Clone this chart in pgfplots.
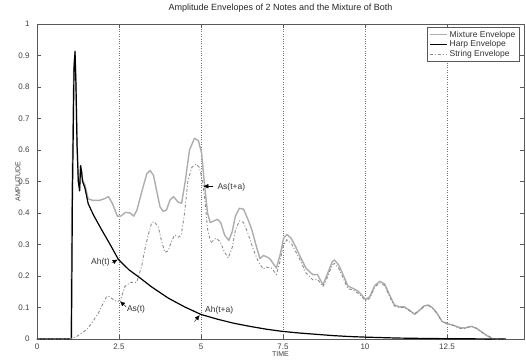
\documentclass[border=0pt]{standalone}
\usepackage{fontspec}
\setmainfont{Liberation Sans}
\usepackage{pgfplots}
\pgfplotsset{compat=1.18}
\usetikzlibrary{arrows.meta}
\definecolor{mixc}{gray}{0.68}
\definecolor{strc}{gray}{0.55}
\definecolor{gridc}{gray}{0.45}
\begin{document}
\begin{tikzpicture}
\path[use as bounding box] (-37pt,-21pt) rectangle (489pt,339pt);
\begin{axis}[
  scale only axis, width=487pt, height=315pt,
  at={(0pt,0pt)}, anchor=south west,
  xmin=0, xmax=14.85, ymin=0, ymax=1,
  xtick={0,2.5,5,7.5,10,12.5},
  xticklabels={0,2.5,5,7.5,10,12.5},
  ytick={0,0.1,0.2,0.3,0.4,0.5,0.6,0.7,0.8,0.9,1},
  yticklabels={0,0.1,0.2,0.3,0.4,0.5,0.6,0.7,0.8,0.9,1},
  tick align=inside, tick pos=both,
  major tick length=4pt,
  axis line style={gray!70!black, line width=0.8pt},
  tick style={gray!70!black, line width=0.6pt},
  xmajorgrids, grid style={gridc, dotted, line width=0.6pt},
  /pgf/number format/assume math mode=true,
  ticklabel style={font=\fontsize{8}{9}\selectfont, text=black!75},
  xticklabel style={yshift=-1pt},
  yticklabel style={xshift=-4pt},
  title={Amplitude Envelopes of 2 Notes and the Mixture of Both},
  title style={font=\fontsize{9}{10}\selectfont, at={(0.5,1)}, anchor=south, yshift=2pt, text=black!85},
  xlabel={TIME}, ylabel={AMPLITUDE},
  label style={font=\fontsize{7}{8}\selectfont, text=black!75},
  xlabel style={at={(0.5,0)}, anchor=north, yshift=-9pt},
  ylabel style={at={(0,0.5)}, anchor=south, yshift=13pt},
  legend style={at={(0.99,0.99)}, anchor=north east, font=\fontsize{8.5}{9}\selectfont,
    draw=gray!70!black, line width=0.6pt, inner sep=1.5pt, row sep=-2pt, text=black!80,
    cells={anchor=west}},
]
\addplot[mixc, line width=1.4pt, line join=round] coordinates {
(0,0) (1.0,0) (1.04,0) (1.06,0.4) (1.12,0.86) (1.16,0.915) (1.19,0.8) (1.22,0.62) (1.26,0.50)
(1.30,0.48) (1.33,0.55) (1.36,0.53) (1.39,0.505) (1.46,0.49) (1.56,0.445) (1.7,0.44) (1.9,0.44)
(2.05,0.445) (2.18,0.452) (2.3,0.43) (2.45,0.39) (2.55,0.39) (2.7,0.402) (2.84,0.40) (2.95,0.39)
(3.05,0.41) (3.2,0.47) (3.35,0.525) (3.45,0.535) (3.55,0.52) (3.65,0.47) (3.75,0.42) (3.85,0.405)
(3.95,0.41) (4.05,0.44) (4.16,0.452) (4.3,0.435) (4.41,0.431) (4.52,0.5) (4.65,0.6) (4.8,0.637)
(4.92,0.63) (5.02,0.59) (5.1,0.5) (5.2,0.4) (5.28,0.37) (5.4,0.375) (5.5,0.38) (5.6,0.37)
(5.72,0.33) (5.85,0.313) (5.95,0.34) (6.05,0.39) (6.17,0.415) (6.3,0.412) (6.45,0.375) (6.55,0.347)
(6.7,0.29) (6.8,0.255) (6.9,0.265) (6.98,0.262) (7.1,0.255) (7.3,0.225) (7.42,0.27) (7.52,0.32)
(7.62,0.332) (7.75,0.32) (7.9,0.29) (8.0,0.267) (8.2,0.225) (8.41,0.204) (8.55,0.205) (8.72,0.172)
(8.85,0.205) (9.0,0.245) (9.07,0.251) (9.2,0.235) (9.35,0.2) (9.48,0.168) (9.65,0.16) (9.79,0.152)
(9.9,0.14) (10.02,0.125) (10.15,0.135) (10.3,0.17) (10.45,0.183) (10.6,0.175) (10.75,0.14)
(10.9,0.108) (11.05,0.102) (11.2,0.102) (11.35,0.092) (11.52,0.078) (11.65,0.09) (11.8,0.105)
(11.93,0.108) (12.05,0.1) (12.2,0.082) (12.35,0.056) (12.49,0.049) (12.74,0.042) (12.9,0.036)
(13.05,0.035) (13.25,0.04) (13.4,0.034) (13.5,0.027) (13.7,0.012) (13.9,0) (14.3,0)
};
\addlegendentry{Mixture Envelope}
\addplot[black, line width=1.2pt, line join=round] coordinates {
(0,0) (1.0,0) (1.05,0) (1.08,0.45) (1.13,0.86) (1.16,0.912) (1.19,0.80) (1.22,0.62) (1.26,0.50)
(1.30,0.47) (1.33,0.55) (1.36,0.53) (1.39,0.50) (1.46,0.48) (1.56,0.43) (1.72,0.394) (1.97,0.347)
(2.23,0.30) (2.48,0.253) (2.8,0.22) (3.14,0.194) (3.5,0.165) (4.0,0.13) (4.5,0.102) (5.0,0.078)
(5.5,0.063) (6.0,0.05) (6.5,0.04) (7.0,0.031) (7.5,0.024) (8.0,0.019) (8.5,0.015) (9,0.011)
(9.5,0.008) (10,0.006) (11,0.003) (12,0.0015) (13,0.0007) (14.3,0)
};
\addlegendentry{Harp Envelope}
\addplot[strc, line width=0.9pt, dash pattern=on 3pt off 2pt on 1pt off 2pt] coordinates {
(0,0) (1.0,0) (1.21,0.008) (1.52,0.03) (1.7,0.055) (1.87,0.082) (2.0,0.11) (2.12,0.135) (2.2,0.135)
(2.33,0.125) (2.45,0.118) (2.55,0.125) (2.68,0.167) (2.85,0.18) (3.04,0.18) (3.19,0.23) (3.3,0.29)
(3.39,0.33) (3.5,0.37) (3.58,0.372) (3.7,0.355) (3.8,0.31) (3.9,0.275) (4.0,0.28) (4.1,0.31)
(4.2,0.33) (4.31,0.323) (4.4,0.33) (4.5,0.40) (4.6,0.50) (4.72,0.545) (4.85,0.555) (4.95,0.545)
(5.05,0.50) (5.12,0.44) (5.2,0.35) (5.3,0.305) (5.45,0.32) (5.58,0.31) (5.7,0.28) (5.83,0.257)
(5.95,0.29) (6.05,0.345) (6.17,0.375) (6.3,0.37) (6.45,0.33) (6.6,0.283) (6.75,0.245) (6.9,0.222)
(7.0,0.228) (7.15,0.225) (7.3,0.205) (7.42,0.25) (7.52,0.3) (7.62,0.315) (7.75,0.305) (7.9,0.275)
(8.05,0.245) (8.2,0.21) (8.41,0.188) (8.55,0.19) (8.72,0.167) (8.85,0.195) (9.0,0.235) (9.07,0.24)
(9.2,0.225) (9.35,0.19) (9.48,0.16) (9.65,0.155) (9.79,0.145) (9.9,0.135) (10.02,0.12) (10.15,0.13)
(10.3,0.165) (10.45,0.178) (10.6,0.17) (10.75,0.135) (10.9,0.105) (11.05,0.1) (11.2,0.1)
(11.35,0.09) (11.5,0.08) (11.65,0.09) (11.8,0.103) (11.92,0.107) (12.05,0.1) (12.2,0.08)
(12.35,0.055) (12.5,0.05) (12.68,0.044) (12.85,0.035) (13.0,0.032) (13.15,0.038) (13.25,0.04)
(13.4,0.034) (13.55,0.022) (13.75,0.01) (13.95,0.0) (14.3,0)
};
\addlegendentry{String Envelope}
% annotations
\begin{scope}[font=\fontsize{8.5}{9}\selectfont, text=black!80]
\node[anchor=east, inner sep=0pt] at (axis cs:2.22,0.245) {Ah(t)};
\draw[black, -{Latex[length=5pt,width=4.5pt]}] (axis cs:2.28,0.242) -- (axis cs:2.46,0.252);
\node[anchor=west, inner sep=0pt] at (axis cs:2.74,0.094) {As(t)};
\draw[black, -{Latex[length=5pt,width=4.5pt]}] (axis cs:2.72,0.102) -- (axis cs:2.53,0.12);
\node[anchor=west, inner sep=0pt] at (axis cs:5.12,0.092) {Ah(t+a)};
\draw[black, -{Latex[length=5pt,width=4.5pt]}] (axis cs:4.8,0.055) -- (axis cs:4.96,0.076);
\node[anchor=west, inner sep=0pt] at (axis cs:5.5,0.483) {As(t+a)};
\draw[black, -{Latex[length=5pt,width=4.5pt]}] (axis cs:5.38,0.485) -- (axis cs:5.07,0.485);
\end{scope}
\node[anchor=north east, inner sep=1pt, font=\fontsize{6.5}{7}\selectfont, text=black!75] at (rel axis cs:1,0) [yshift=-9pt] {x 10$^{4}$};
\end{axis}
\end{tikzpicture}
\end{document}
